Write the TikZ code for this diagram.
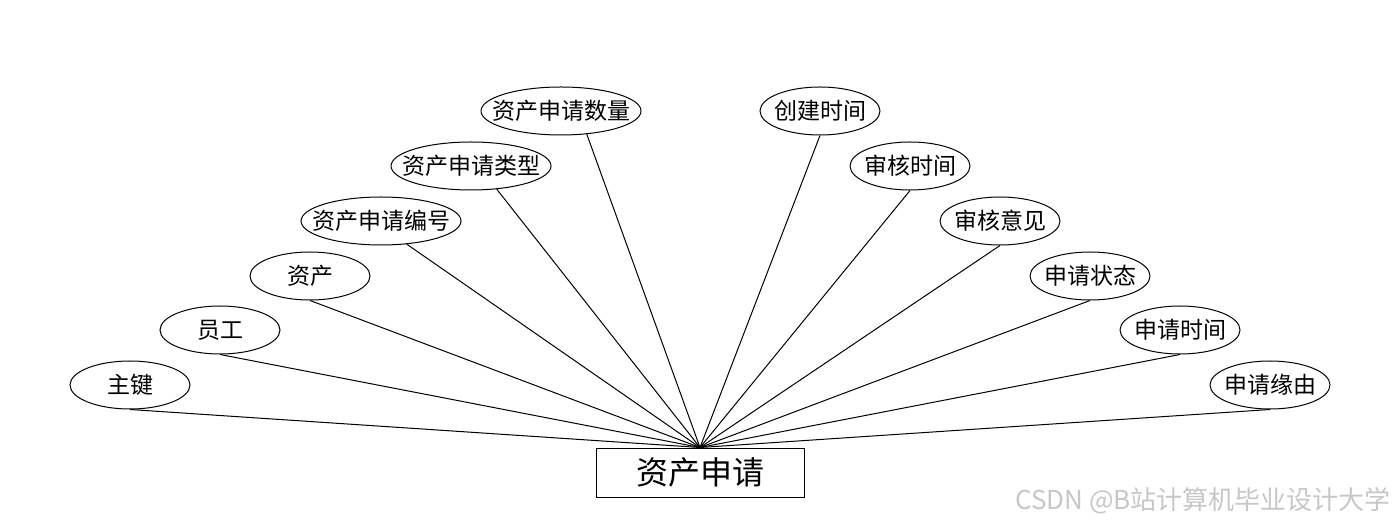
\documentclass[tikz,border=0pt]{standalone}
\usepackage{fontspec}
\setmainfont{Noto Sans CJK SC}
\usetikzlibrary{positioning, shapes.geometric, calc}

\begin{document}
\begin{tikzpicture}[x=0.5pt, y=-0.5pt,
  attr/.style={draw, ellipse, line width=0.5pt, inner xsep=-7pt, inner ysep=0pt, minimum width=60pt, minimum height=24pt, font=\fontsize{11.5pt}{12pt}\selectfont},
  wideattr/.style={attr, minimum width=80pt},
  link/.style={line width=0.5pt}]
  \useasboundingbox (0,0) rectangle (1400,528);

  \node[draw, line width=0.5pt, minimum width=104pt, minimum height=24.5pt, inner sep=0pt, font=\fontsize{16pt}{18pt}\selectfont] (apply) at (700,472.5) {资产申请};

  % left side
  \node[attr] (key) at (130,385) {主键};
  \node[attr] (staff) at (220,330) {员工};
  \node[attr] (asset) at (310,276) {资产};
  \node[wideattr] (no) at (381,221) {资产申请编号};
  \node[wideattr] (type) at (471,166) {资产申请类型};
  \node[wideattr] (num) at (561,111) {资产申请数量};

  % right side
  \node[attr] (created) at (820,111) {创建时间};
  \node[attr] (checktime) at (910,166) {审核时间};
  \node[attr] (opinion) at (1000,221) {审核意见};
  \node[attr] (state) at (1090,276) {申请状态};
  \node[attr] (applytime) at (1180,330) {申请时间};
  \node[attr] (reason) at (1270,385) {申请缘由};

  \foreach \n in {key, staff, asset, created, checktime, opinion, state, applytime, reason}
    \draw[link] (apply.north) -- (\n.south);
  \foreach \n in {no, type, num}
    \draw[link] (apply.north) -- (\n.-42);

  \node[anchor=east, text=black!22, font=\fontsize{13pt}{14pt}\selectfont] (mark) at (1398,501) {CSDN @B站计算机毕业设计大学};
\end{tikzpicture}
\end{document}
